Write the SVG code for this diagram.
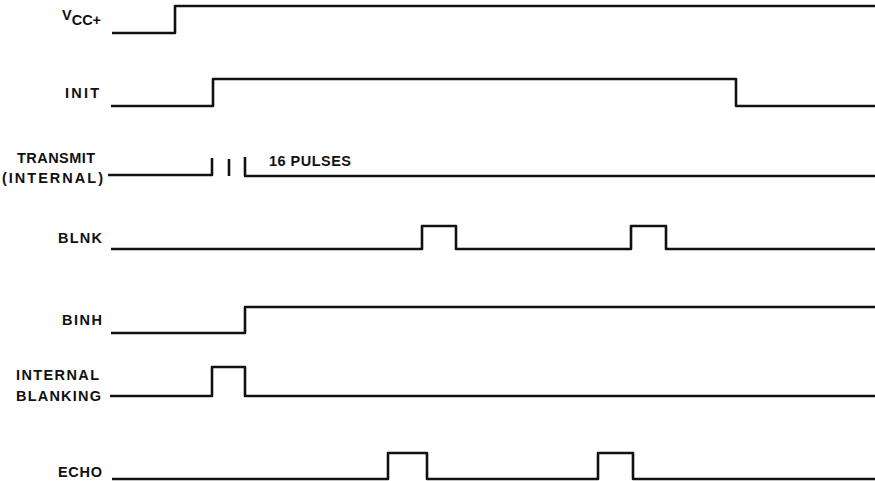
<svg xmlns="http://www.w3.org/2000/svg" width="875" height="481" viewBox="0 0 875 481">
<style>
.lbl{font-family:"Liberation Sans",Arial,sans-serif;font-weight:bold;font-size:14.5px;fill:#111;}
.wave{fill:none;stroke:#111;stroke-width:2.6;stroke-linejoin:round;stroke-linecap:butt;}
</style>
<rect width="875" height="481" fill="#fff"/>
<g id="vcc">
<text class="lbl" x="62" y="20" font-size="13.5">V<tspan dy="5">CC+</tspan></text>
<path class="wave" d="M112,33 H175 V6 H875"/>
</g>
<g id="init">
<text class="lbl" x="65" y="98" textLength="34" lengthAdjust="spacing">INIT</text>
<path class="wave" d="M111,106 H213 V79 H736 V106 H875"/>
</g>
<g id="transmit">
<text class="lbl" x="17" y="163" textLength="78" lengthAdjust="spacing">TRANSMIT</text>
<text class="lbl" x="2" y="183" textLength="101" lengthAdjust="spacing">(INTERNAL)</text>
<path class="wave" d="M108,175 H212 V158"/>
<path class="wave" d="M229,159 V176"/>
<path class="wave" d="M245,157 V176 H875"/>
<text class="lbl" x="269" y="166" textLength="82" lengthAdjust="spacing">16 PULSES</text>
</g>
<g id="blnk">
<text class="lbl" x="58" y="243" textLength="44" lengthAdjust="spacing">BLNK</text>
<path class="wave" d="M111,249 H422 V226 H456 V249 H631 V226 H666 V249 H875"/>
</g>
<g id="binh">
<text class="lbl" x="62" y="325" textLength="40" lengthAdjust="spacing">BINH</text>
<path class="wave" d="M111,333 H245 V307 H875"/>
</g>
<g id="internal-blanking">
<text class="lbl" x="16" y="380" textLength="83" lengthAdjust="spacing">INTERNAL</text>
<text class="lbl" x="16" y="401" textLength="85" lengthAdjust="spacing">BLANKING</text>
<path class="wave" d="M110,396 H212 V367 H245 V396 H875"/>
</g>
<g id="echo">
<text class="lbl" x="58" y="477" textLength="44" lengthAdjust="spacing">ECHO</text>
<path class="wave" d="M112,479 H388 V453 H427 V479 H598 V453 H633 V479 H875"/>
</g>
<g id="connectors"></g>
</svg>
